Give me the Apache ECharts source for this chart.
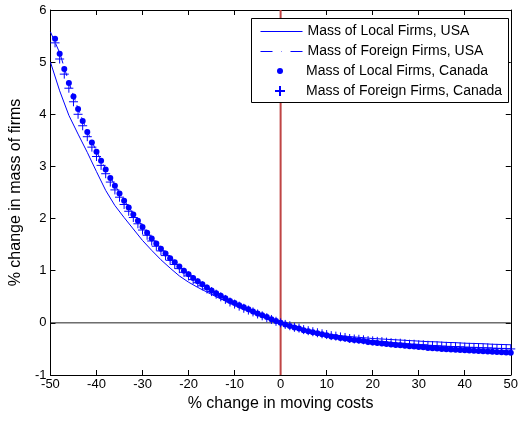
<!DOCTYPE html>
<html>
<head>
<meta charset="utf-8">
<script src="https://cdn.jsdelivr.net/npm/echarts@6/dist/echarts.min.js"></script>
<style>html,body{margin:0;padding:0;background:#fff;}#c{width:521px;height:424px;}</style>
</head>
<body>
<div id="c"></div>
<script>
// x positions of the USA lines
const xLines = [-50,-48,-46,-44,-42,-40,-38,-36,-34,-32,-30,-28,-26,-24,-22,-20,-18,-16,-14,-12,-10,-8,-6,-4,-2,0,2,4,6,8,10,12,14,16,18,20,22,24,26,28,30,32,34,36,38,40,42,44,46,48,50];
const localUSA = [5.00,4.45,3.98,3.62,3.27,2.90,2.54,2.25,2.02,1.80,1.58,1.39,1.21,1.05,0.90,0.78,0.68,0.59,0.50,0.42,0.35,0.28,0.21,0.14,0.07,0,-0.06,-0.11,-0.15,-0.18,-0.21,-0.235,-0.255,-0.27,-0.285,-0.30,-0.31,-0.32,-0.33,-0.34,-0.35,-0.36,-0.365,-0.375,-0.38,-0.39,-0.395,-0.40,-0.41,-0.415,-0.42];
const foreignUSA = [5.58,5.18,4.61,4.11,3.67,3.29,2.95,2.64,2.35,2.09,1.85,1.63,1.43,1.25,1.09,0.94,0.81,0.69,0.58,0.48,0.39,0.30,0.22,0.145,0.07,0,-0.06,-0.11,-0.155,-0.195,-0.235,-0.265,-0.295,-0.32,-0.34,-0.36,-0.38,-0.395,-0.41,-0.425,-0.44,-0.455,-0.465,-0.48,-0.49,-0.50,-0.51,-0.52,-0.53,-0.54,-0.545];
// x positions of the Canada markers
const xMarkers = [-49,-48,-47,-46,-45,-44,-43,-42,-41,-40,-39,-38,-37,-36,-35,-34,-33,-32,-31,-30,-29,-28,-27,-26,-25,-24,-23,-22,-21,-20,-19,-18,-17,-16,-15,-14,-13,-12,-11,-10,-9,-8,-7,-6,-5,-4,-3,-2,-1,0,1,2,3,4,5,6,7,8,9,10,11,12,13,14,15,16,17,18,19,20,21,22,23,24,25,26,27,28,29,30,31,32,33,34,35,36,37,38,39,40,41,42,43,44,45,46,47,48,49,50];
const localCanada = [5.45,5.16,4.87,4.60,4.34,4.10,3.87,3.66,3.46,3.28,3.11,2.94,2.78,2.63,2.48,2.34,2.21,2.08,1.96,1.84,1.73,1.62,1.52,1.42,1.33,1.24,1.16,1.08,1.00,0.93,0.86,0.80,0.74,0.68,0.62,0.57,0.52,0.47,0.42,0.38,0.34,0.30,0.26,0.22,0.18,0.145,0.11,0.07,0.035,0,-0.03,-0.06,-0.09,-0.11,-0.14,-0.16,-0.18,-0.20,-0.22,-0.24,-0.26,-0.27,-0.29,-0.30,-0.32,-0.33,-0.34,-0.35,-0.365,-0.375,-0.385,-0.395,-0.405,-0.415,-0.425,-0.43,-0.44,-0.45,-0.455,-0.465,-0.47,-0.48,-0.485,-0.49,-0.50,-0.505,-0.51,-0.515,-0.52,-0.525,-0.53,-0.535,-0.54,-0.545,-0.55,-0.555,-0.56,-0.565,-0.57,-0.575];
const foreignCanada = [5.37,5.06,4.77,4.50,4.24,4.00,3.78,3.57,3.37,3.19,3.02,2.86,2.70,2.55,2.41,2.27,2.14,2.02,1.90,1.78,1.68,1.57,1.47,1.38,1.29,1.20,1.12,1.04,0.97,0.90,0.83,0.77,0.71,0.65,0.60,0.55,0.50,0.45,0.40,0.36,0.32,0.28,0.245,0.21,0.17,0.135,0.10,0.065,0.03,0,-0.03,-0.055,-0.085,-0.10,-0.13,-0.15,-0.17,-0.19,-0.21,-0.225,-0.245,-0.255,-0.27,-0.28,-0.30,-0.31,-0.315,-0.325,-0.34,-0.345,-0.355,-0.36,-0.37,-0.38,-0.39,-0.39,-0.40,-0.41,-0.41,-0.42,-0.42,-0.43,-0.435,-0.44,-0.445,-0.45,-0.455,-0.455,-0.46,-0.465,-0.47,-0.47,-0.475,-0.48,-0.48,-0.485,-0.49,-0.49,-0.495,-0.50];
const seriesNames = ['Mass of Local Firms, USA','Mass of Foreign Firms, USA','Mass of Local Firms, Canada','Mass of Foreign Firms, Canada'];
const xTitle = '% change in moving costs';
const yTitle = '% change in mass of firms';

const zip = (xs, ys) => xs.map((x, i) => [x, ys[i]]);
const FONT = 'Liberation Sans';
const BLUE = '#0000ff';
const plusPath = 'path://M0,5L10,5M5,0L5,10';

const chart = echarts.init(document.getElementById('c'), null, {renderer: 'canvas'});
const axisCommon = {
  axisLine: {show: true, onZero: false, lineStyle: {color: '#000', width: 1}},
  axisTick: {show: true, inside: true, length: 5, lineStyle: {color: '#000'}},
  splitLine: {show: false}
};
function legendItem(i, left, top, extra, lh) {
  return Object.assign({
    data: [seriesNames[i]], left: left, top: top, orient: 'vertical', padding: 0,
    itemWidth: 42, itemHeight: 10, selectedMode: false,
    textStyle: {fontFamily: FONT, fontSize: 14, color: '#000', lineHeight: lh || 16}
  }, extra || {});
}
chart.setOption({
  animation: false,
  grid: {left: 48, right: 9, top: 10, bottom: 49},
  xAxis: [
    Object.assign({type: 'value', min: -50, max: 50, interval: 10, position: 'bottom',
      name: xTitle, nameLocation: 'middle', nameGap: 21,
      nameTextStyle: {fontFamily: FONT, fontSize: 16, color: '#000'},
      axisLabel: {fontFamily: FONT, fontSize: 13, color: '#000', margin: 3}}, axisCommon),
    Object.assign({type: 'value', min: -50, max: 50, interval: 10, position: 'top',
      axisLabel: {show: false}}, axisCommon)
  ],
  yAxis: [
    Object.assign({type: 'value', min: -1, max: 6, interval: 1, position: 'left',
      name: yTitle, nameLocation: 'middle', nameGap: 24,
      nameTextStyle: {fontFamily: FONT, fontSize: 16, color: '#000'},
      axisLabel: {fontFamily: FONT, fontSize: 13, color: '#000', margin: 4}}, axisCommon),
    Object.assign({type: 'value', min: -1, max: 6, interval: 1, position: 'right',
      axisLabel: {show: false}}, axisCommon)
  ],
  legend: [
    legendItem(0, 260, 23, {itemHeight: 1,
      data: [{name: seriesNames[0], lineStyle: {color: BLUE, width: 1, type: 'solid'}}]}, 17),
    legendItem(1, 260, 43, {itemHeight: 1,
      data: [{name: seriesNames[1], lineStyle: {color: BLUE, width: 1, type: [12, 18]}}]}, 17),
    legendItem(2, 277, 63, {itemHeight: 6}),
    legendItem(3, 274, 83, {itemHeight: 10})
  ],
  graphic: [{
    type: 'rect', z: 3, silent: true,
    shape: {x: 251.5, y: 18.5, width: 257, height: 84},
    style: {fill: '#fff', stroke: '#000', lineWidth: 1}
  }],
  series: [
    {type: 'line', name: 'zero', data: [[-50, 0], [50, 0]], symbol: 'none', silent: true,
      lineStyle: {color: '#222', width: 1}, z: 1},
    {type: 'line', name: seriesNames[0], data: zip(xLines, localUSA), symbol: 'none',
      lineStyle: {color: BLUE, width: 1}, itemStyle: {color: BLUE}},
    {type: 'line', name: seriesNames[1], data: zip(xLines, foreignUSA), symbol: 'none',
      lineStyle: {color: BLUE, width: 1, type: [8, 5]}, itemStyle: {color: BLUE}},
    {type: 'scatter', name: seriesNames[2], data: zip(xMarkers, localCanada), symbol: 'circle',
      symbolSize: 6, itemStyle: {color: BLUE, opacity: 1}},
    {type: 'scatter', name: seriesNames[3], data: zip(xMarkers, foreignCanada), symbol: plusPath,
      symbolSize: 9, itemStyle: {color: 'rgba(0,0,0,0)', borderColor: BLUE, borderWidth: 1, opacity: 1}},
    {type: 'line', name: 'zeroCost', data: [[0, -1], [0, 6]], symbol: 'none', silent: true,
      lineStyle: {color: '#bf4444', width: 2}, z: 2}
  ]
});
</script>
</body>
</html>
